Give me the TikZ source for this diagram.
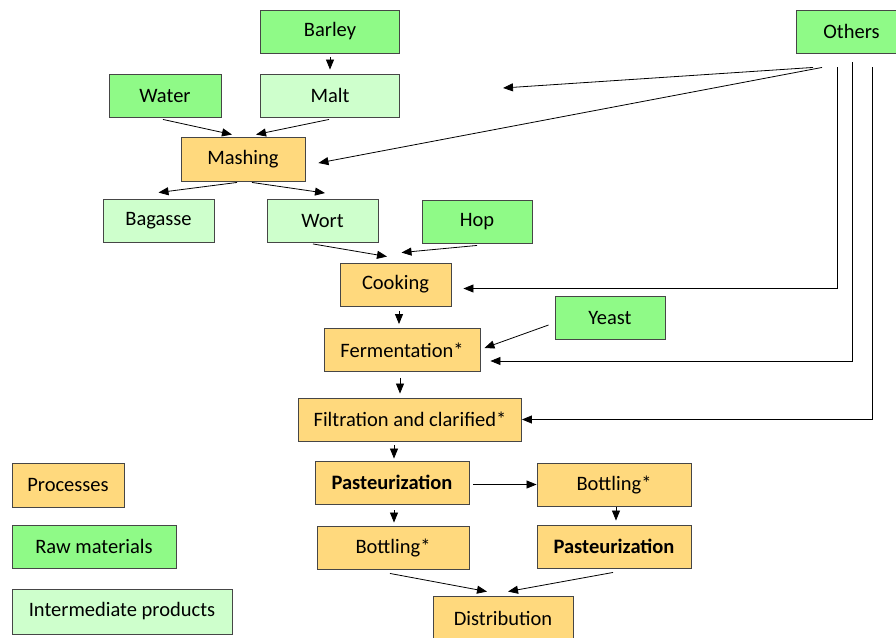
\documentclass[tikz,border=0pt]{standalone}
\usepackage{fontspec}
\setmainfont{Carlito}
\usetikzlibrary{arrows.meta}
\definecolor{procfill}{RGB}{255,217,125}
\definecolor{rawfill}{RGB}{143,250,135}
\definecolor{interfill}{RGB}{206,255,204}
\definecolor{boxline}{RGB}{70,70,70}
\tikzstyle{box} = [rectangle, draw=boxline, line width=0.9pt, minimum height=43pt, inner sep=0pt, text centered, font=\fontsize{20.5}{23}\selectfont]
\tikzstyle{process} = [box, fill=procfill]
\tikzstyle{raw} = [box, fill=rawfill]
\tikzstyle{inter} = [box, fill=interfill]
\tikzstyle{arrow} = [line width=0.8pt, -{Triangle[length=10pt,width=8pt]}]

\begin{document}
\begin{tikzpicture}[x=1pt,y=-1pt]
\useasboundingbox (0,0) rectangle (896,637);
% raw materials and intermediate products
\node (barley) [raw, minimum width=139pt] at (330,31.5) {Barley};
\node (others) [raw, minimum width=111pt] at (851.5,31.5) {Others};
\node (water) [raw, minimum width=112pt] at (165,95.5) {Water};
\node (malt) [inter, minimum width=139pt] at (330,95.5) {Malt};
\node (mashing) [process, minimum width=124pt, minimum height=44pt] at (243,159) {Mashing};
\node (bagasse) [inter, minimum width=111pt] at (158.5,220.5) {Bagasse};
\node (wort) [inter, minimum width=111pt] at (322.5,221) {Wort};
\node (hop) [raw, minimum width=110pt] at (477,221.5) {Hop};
% processes
\node (cooking) [process, minimum width=111pt] at (395.5,284.5) {Cooking};
\node (yeast) [raw, minimum width=110pt] at (610,317.5) {Yeast};
\node (fermentation) [process, minimum width=156pt] at (402,350) {Fermentation*};
\node (filtration) [process, minimum width=223pt] at (410,419.5) {Filtration and clarified*};
\node (pasteur) [process, minimum width=154pt] at (392,482.5) {\textbf{Pasteurization}};
\node (bottlingB) [process, minimum width=154pt] at (614,484.5) {Bottling*};
\node (bottlingA) [process, minimum width=152pt] at (393,547.5) {Bottling*};
\node (pasteurB) [process, minimum width=154pt] at (614,546.5) {\textbf{Pasteurization}};
\node (distribution) [process, minimum width=140pt, minimum height=44pt] at (503,618) {Distribution};
% legend
\node (legproc) [process, minimum width=112pt, minimum height=44pt] at (68,485) {Processes};
\node (legraw) [raw, minimum width=164pt] at (94,546.5) {Raw materials};
\node (leginter) [inter, minimum width=220pt, minimum height=45pt] at (122,611.5) {Intermediate products};
\coordinate (othersend) at (503,88);

\draw [arrow] ([yshift=-4]barley.south) -- ([yshift=4]malt.north);
\draw [arrow] ([xshift=-2,yshift=-2]water.south) -- ([xshift=-11,yshift=2]mashing.north);
\draw [arrow] ([xshift=-1,yshift=-2]malt.south) -- ([xshift=13,yshift=2]mashing.north);
\draw [arrow] ([xshift=-38.5,yshift=-14]others.south) -- (othersend);
\draw [arrow] ([xshift=-29.5,yshift=-14]others.south) -- ([xshift=13,yshift=-4]mashing.east);
\draw [arrow] ([xshift=-6,yshift=-1]mashing.south) -- ([yshift=6]bagasse.north);
\draw [arrow] ([xshift=9,yshift=-1]mashing.south) -- ([xshift=2.5,yshift=6]wort.north);
\draw [arrow] ([xshift=-9.5,yshift=-1]wort.south) -- ([xshift=-8.5,yshift=6]cooking.north);
\draw [arrow] ([yshift=-2]hop.south) -- ([xshift=6,yshift=10]cooking.north);
\draw [arrow] ([xshift=-14.5,yshift=-14]others.south) |- ([xshift=12,yshift=-4]cooking.east);
\draw [arrow] ([xshift=3.5,yshift=-5]cooking.south) -- ([xshift=-3,yshift=4]fermentation.north);
\draw [arrow] ([xshift=-6,yshift=-7.5]yeast.west) -- ([xshift=4,yshift=2]fermentation.east);
\draw [arrow] ([xshift=0.5,yshift=-9]others.south) |- ([xshift=10,yshift=-11]fermentation.east);
\draw [arrow] ([xshift=-2,yshift=-6]fermentation.south) -- ([xshift=-10,yshift=4]filtration.north);
\draw [arrow] ([xshift=20.5,yshift=-14]others.south) |- (filtration.east);
\draw [arrow] ([xshift=-16,yshift=-4]filtration.south) -- ([xshift=2,yshift=2]pasteur.north);
\draw [arrow] ([xshift=4,yshift=-2]pasteur.east) -- (bottlingB.west);
\draw [arrow] ([xshift=2,yshift=-6]pasteur.south) -- ([xshift=1,yshift=3]bottlingA.north);
\draw [arrow] ([xshift=2,yshift=-1]bottlingB.south) -- ([xshift=2,yshift=4]pasteurB.north);
\draw [arrow] ([xshift=-3,yshift=-4]bottlingA.south) -- ([xshift=-16,yshift=4]distribution.north);
\draw [arrow] ([xshift=-1,yshift=-4]pasteurB.south) -- ([xshift=5,yshift=4]distribution.north);
\end{tikzpicture}
\end{document}
